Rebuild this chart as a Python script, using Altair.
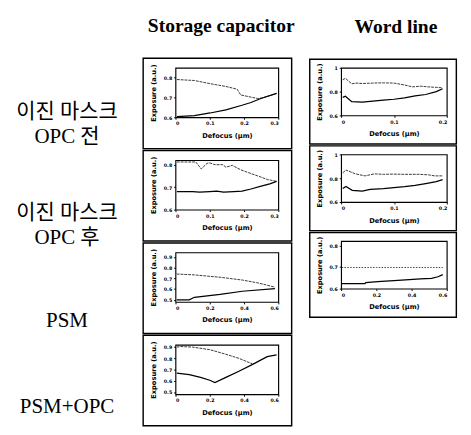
import altair as alt
import pandas as pd

row_labels = ["이진 마스크\nOPC 전", "이진 마스크\nOPC 후", "PSM", "PSM+OPC"]
col_titles = ["Storage capacitor", "Word line"]
x_title = "Defocus (μm)"
y_title = "Exposure (a.u.)"

# Storage capacitor, OPC 전
sc1_up_x = [0.004, 0.055, 0.101, 0.147, 0.18, 0.19, 0.24, 0.255, 0.295]
sc1_up_y = [0.791, 0.786, 0.770, 0.756, 0.742, 0.713, 0.695, 0.699, 0.721]
sc1_lo_x = [0.004, 0.055, 0.101, 0.147, 0.194, 0.22, 0.249, 0.295]
sc1_lo_y = [0.604, 0.609, 0.622, 0.638, 0.661, 0.675, 0.695, 0.721]

# Storage capacitor, OPC 후
sc2_up_x = [0.004, 0.059, 0.075, 0.092, 0.1, 0.115, 0.138, 0.147, 0.166, 0.18, 0.194, 0.212, 0.24, 0.268, 0.295]
sc2_up_y = [0.812, 0.812, 0.781, 0.806, 0.808, 0.8, 0.8, 0.789, 0.797, 0.785, 0.775, 0.765, 0.75, 0.734, 0.726]
sc2_lo_x = [0.004, 0.05, 0.07, 0.1, 0.12, 0.14, 0.17, 0.194, 0.22, 0.25, 0.275, 0.295]
sc2_lo_y = [0.68, 0.68, 0.678, 0.68, 0.682, 0.678, 0.68, 0.682, 0.692, 0.705, 0.715, 0.726]

# Storage capacitor, PSM
sc3_up_x = [0.007, 0.11, 0.26, 0.39, 0.48, 0.58]
sc3_up_y = [0.74, 0.732, 0.71, 0.684, 0.658, 0.618]
sc3_lo_x = [0.007, 0.08, 0.11, 0.26, 0.39, 0.58]
sc3_lo_y = [0.5, 0.5, 0.524, 0.55, 0.58, 0.604]

# Storage capacitor, PSM+OPC
sc4_up_x = [0.007, 0.03, 0.1, 0.2, 0.29, 0.37, 0.45]
sc4_up_y = [0.9, 0.905, 0.9, 0.877, 0.838, 0.8, 0.75]
sc4_lo_x = [0.007, 0.08, 0.146, 0.2, 0.23, 0.294, 0.37, 0.45, 0.535, 0.59]
sc4_lo_y = [0.669, 0.656, 0.631, 0.605, 0.585, 0.631, 0.685, 0.746, 0.815, 0.831]

# Word line, OPC 전
wl1_up_x = [0.003, 0.008, 0.02, 0.03, 0.04, 0.06, 0.08, 0.1, 0.12, 0.135, 0.15, 0.165, 0.18, 0.192]
wl1_up_y = [0.90, 0.912, 0.866, 0.872, 0.868, 0.872, 0.874, 0.872, 0.856, 0.84, 0.846, 0.84, 0.836, 0.832]
wl1_lo_x = [0.003, 0.008, 0.02, 0.04, 0.06, 0.08, 0.1, 0.12, 0.14, 0.16, 0.18, 0.192]
wl1_lo_y = [0.752, 0.762, 0.716, 0.712, 0.72, 0.728, 0.736, 0.748, 0.764, 0.776, 0.8, 0.824]

# Word line, OPC 후
wl2_up_x = [0.003, 0.009, 0.027, 0.045, 0.063, 0.08, 0.1, 0.12, 0.147, 0.165, 0.177, 0.192]
wl2_up_y = [0.845, 0.869, 0.837, 0.82, 0.837, 0.833, 0.835, 0.833, 0.833, 0.829, 0.82, 0.82]
wl2_lo_x = [0.003, 0.009, 0.021, 0.04, 0.055, 0.08, 0.1, 0.12, 0.14, 0.16, 0.18, 0.192]
wl2_lo_y = [0.714, 0.73, 0.698, 0.692, 0.706, 0.712, 0.722, 0.73, 0.74, 0.755, 0.772, 0.788]

# Word line, PSM
wl3_up_x = [0.003, 0.2, 0.4, 0.577]
wl3_up_y = [0.698, 0.698, 0.698, 0.698]
wl3_lo_x = [0.003, 0.135, 0.14, 0.207, 0.3, 0.387, 0.45, 0.513, 0.55, 0.577]
wl3_lo_y = [0.623, 0.623, 0.628, 0.633, 0.637, 0.642, 0.645, 0.648, 0.655, 0.665]

AXIS = dict(labelFontSize=5, labelFont="DejaVu Sans", labelFontWeight="bold",
            labelColor="black", tickSize=2, tickColor="black", domain=False,
            grid=False, titleFontSize=7, titleFont="DejaVu Sans",
            titleFontWeight="bold", titleColor="black", labelPadding=2)

TITLE = dict(fontSize=20.5, font="Liberation Serif", fontWeight="bold",
             color="black", offset=22, frame="group")


def panel(ux, uy, lx, ly, xdom, xticks, ydom, yticks, w, h, fl, fr, ft, fb,
          dotted_upper=False, label=None, label_y=0, title=None, title_dx=0):
    df = pd.DataFrame({
        "x": list(ux) + list(lx),
        "y": list(uy) + list(ly),
        "s": ["upper"] * len(ux) + ["lower"] * len(lx),
        "o": list(range(len(ux))) + list(range(len(lx))),
    })
    xe = alt.X("x:Q", scale=alt.Scale(domain=xdom, nice=False, zero=False),
               axis=alt.Axis(values=xticks, title=x_title, format=".1~f",
                             titlePadding=6, **AXIS))
    ye = alt.Y("y:Q", scale=alt.Scale(domain=ydom, nice=False, zero=False),
               axis=alt.Axis(values=yticks, title=y_title, format=".1~f",
                             titlePadding=7, **AXIS))
    base = alt.Chart(df)
    up_kw = dict(color="#333333", strokeWidth=1, clip=True)
    up_kw["strokeDash"] = [1.5, 1.5] if dotted_upper else [3, 1]
    up = base.transform_filter(alt.datum.s == "upper").mark_line(**up_kw).encode(
        x=xe, y=ye, order="o:Q")
    lo = base.transform_filter(alt.datum.s == "lower").mark_line(
        color="black", strokeWidth=1.3, clip=True).encode(x=xe, y=ye, order="o:Q")
    frame = alt.Chart(pd.DataFrame({"a": [0]})).mark_rect(
        fillOpacity=0, stroke="black", strokeWidth=1.5).encode(
        x=alt.value(-fl), x2=alt.value(w + fr), y=alt.value(-ft), y2=alt.value(h + fb))
    layers = [frame, up, lo]
    if label is not None:
        lab = alt.Chart(pd.DataFrame({"label": [label]})).mark_text(
            lineBreak="\n", lineHeight=26, fontSize=22,
            font="Liberation Serif, Noto Sans CJK KR", color="black",
            align="center", baseline="middle").encode(
            x=alt.value(-114), y=alt.value(label_y), text="label:N")
        layers.append(lab)
    props = dict(width=w, height=h,
                 view=alt.ViewBackground(stroke="black", strokeWidth=1.2))
    if title is not None:
        props["title"] = alt.TitleParams(title, dx=title_dx, **TITLE)
    return alt.layer(*layers).properties(**props)


SCW, SCH = 108, 52
WLW, WLH = 111, 50
sc_args = dict(w=SCW, h=SCH, fl=34, fr=14, ft=10, fb=33)
wl_args = dict(w=WLW, h=WLH, fl=33, fr=10, ft=9, fb=30)

sc_panels = [
    panel(sc1_up_x, sc1_up_y, sc1_lo_x, sc1_lo_y, [0, 0.3], [0, 0.1, 0.2, 0.3],
          [0.6, 0.85], [0.6, 0.7, 0.8], label=row_labels[0], label_y=46,
          title=col_titles[0], title_dx=-6, **sc_args),
    panel(sc2_up_x, sc2_up_y, sc2_lo_x, sc2_lo_y, [0, 0.3], [0, 0.1, 0.2, 0.3],
          [0.6, 0.82], [0.6, 0.7, 0.8], label=row_labels[1], label_y=55, **sc_args),
    panel(sc3_up_x, sc3_up_y, sc3_lo_x, sc3_lo_y, [0, 0.6], [0, 0.2, 0.4, 0.6],
          [0.48, 0.94], [0.5, 0.6, 0.7, 0.8, 0.9], label=row_labels[2], label_y=71,
          **sc_args),
    panel(sc4_up_x, sc4_up_y, sc4_lo_x, sc4_lo_y, [0, 0.6], [0, 0.2, 0.4, 0.6],
          [0.48, 0.92], [0.5, 0.6, 0.7, 0.8, 0.9], label=row_labels[3], label_y=65,
          **sc_args),
]
wl_panels = [
    panel(wl1_up_x, wl1_up_y, wl1_lo_x, wl1_lo_y, [0, 0.2], [0, 0.1, 0.2],
          [0.6, 1.0], [0.6, 0.8, 1.0], title=col_titles[1], title_dx=2, **wl_args),
    panel(wl2_up_x, wl2_up_y, wl2_lo_x, wl2_lo_y, [0, 0.2], [0, 0.1, 0.2],
          [0.6, 1.0], [0.6, 0.8, 1.0], **wl_args),
    panel(wl3_up_x, wl3_up_y, wl3_lo_x, wl3_lo_y, [0, 0.6], [0, 0.2, 0.4, 0.6],
          [0.6, 0.82], [0.6, 0.7, 0.8], dotted_upper=True, **wl_args),
]

sc_col = alt.vconcat(*sc_panels, spacing=SCH - 7, bounds="flush")
wl_col = alt.vconcat(*wl_panels, spacing=WLH - 9, bounds="flush")

chart = alt.hconcat(sc_col, wl_col, spacing=13).properties(
    padding={"left": 8, "top": -2, "right": 5, "bottom": 0}
).configure(background="white").configure_view(strokeWidth=1.2)

chart.save("out.html", embed_options={"renderer": "svg", "actions": False})
